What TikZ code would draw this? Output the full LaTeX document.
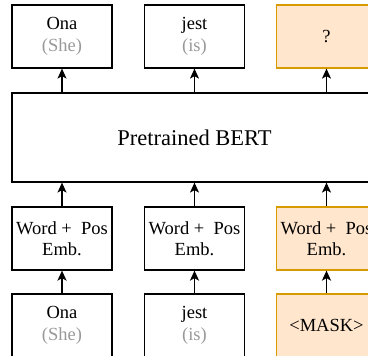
\documentclass[tikz,border=0pt]{standalone}
\usepackage{fontspec}
\setmainfont{Liberation Serif}
\usetikzlibrary{arrows.meta}
\definecolor{maskfill}{HTML}{FFE6CC}
\definecolor{maskdraw}{HTML}{D79B00}
\definecolor{glosscol}{HTML}{999999}
\begin{document}
\begin{tikzpicture}[x=1pt,y=-1pt,
  tok/.style={draw=black,line width=1.2pt,minimum width=100pt,minimum height=63pt,
    inner sep=0pt,align=center,font=\fontsize{18.5}{21.5}\selectfont},
  masked/.style={tok,fill=maskfill,draw=maskdraw},
  bertbox/.style={draw=black,line width=1.2pt,minimum width=365pt,minimum height=89pt,
    inner sep=0pt,font=\fontsize{22.5}{26}\selectfont},
  thinarrow/.style={-{Stealth[length=10pt,width=9pt,inset=2.5pt]},line width=1.2pt},
  thickarrow/.style={-{Stealth[length=10pt,width=9pt,inset=2.5pt]},line width=1.9pt}]
\useasboundingbox (0,0) rectangle (368,356);
\clip (0,0) rectangle (368,356);
\newcommand{\gloss}[1]{\textcolor{glosscol}{#1}}
% outputs
\node[tok] (o1) at (62,36.5) {Ona\\\gloss{(She)}};
\node[tok] (o2) at (194.5,36.5) {jest\\\gloss{(is)}};
\node[masked] (o3) at (326.5,36.5) {?};
% encoder
\node[bertbox] (bert) at (194.5,137.5) {Pretrained BERT};
% embeddings
\node[tok] (e1) at (62,238.5) {Word +\ \ Pos\\Emb.};
\node[tok] (e2) at (194.5,238.5) {Word +\ \ Pos\\Emb.};
\node[masked] (e3) at (326.5,238.5) {Word +\ \ Pos\\Emb.};
% inputs
\node[tok] (i1) at (62,325.5) {Ona\\\gloss{(She)}};
\node[tok] (i2) at (194.5,325.5) {jest\\\gloss{(is)}};
\node[masked] (i3) at (326.5,325.5) {<MASK>};
% connections
\foreach \c in {1,2,3}{
  \draw[thinarrow] (bert.north -| o\c.south) -- (o\c.south);
  \draw[thinarrow] (e\c.north) -- (bert.south -| e\c.north);
  \draw[thickarrow] (i\c.north) -- (e\c.south);
}
\end{tikzpicture}
\end{document}
